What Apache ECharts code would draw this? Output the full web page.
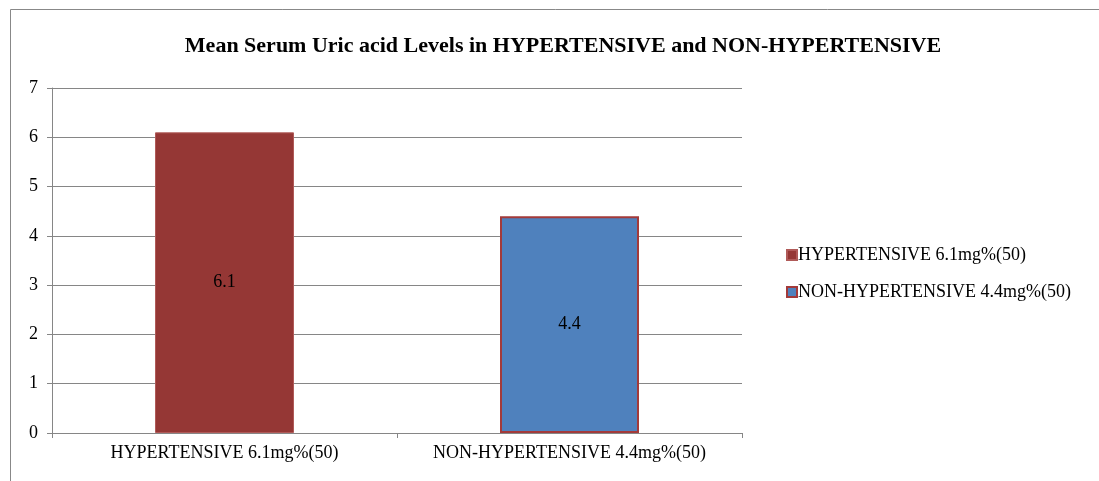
<!DOCTYPE html>
<html><head><meta charset="utf-8">
<script src="https://cdn.jsdelivr.net/npm/echarts@6/dist/echarts.min.js"></script>
<style>html,body{margin:0;padding:0;background:#fff}#c{width:1099px;height:481px}</style>
</head><body><div id="c"></div>
<script>
var categories = ['HYPERTENSIVE 6.1mg%(50)', 'NON-HYPERTENSIVE 4.4mg%(50)'];
var hyperValues = [6.1, '-'];
var nonHyperValues = ['-', 4.4];
var yTicks = [0, 1, 2, 3, 4, 5, 6, 7];
var FONT = '"Liberation Serif", "Times New Roman", serif';
var chart = echarts.init(document.getElementById('c'));
chart.setOption({
  animation: false,
  backgroundColor: '#fff',
  graphic: [{type: 'rect', shape: {x: 10.5, y: 9.5, width: 1200, height: 600}, style: {fill: 'none', stroke: '#888', lineWidth: 1}, silent: true}],
  title: {text: 'Mean Serum Uric acid Levels in HYPERTENSIVE and NON-HYPERTENSIVE', left: 558, textAlign: 'center', top: 30,
    textStyle: {fontFamily: FONT, fontSize: 22, fontWeight: 'bold', color: '#000'}},
  grid: {left: 52, right: 357, top: 88, bottom: 48, containLabel: false},
  legend: {orient: 'vertical', left: 781, top: 241, itemWidth: 10, itemHeight: 10, itemGap: 19, icon: 'rect',
    textStyle: {fontFamily: FONT, fontSize: 18, color: '#000', padding: [0, 0, 0, -4]}, data: categories},
  xAxis: {type: 'category', data: categories,
    axisLine: {lineStyle: {color: '#868686'}},
    axisTick: {show: true, length: 5, lineStyle: {color: '#868686'}},
    axisLabel: {fontFamily: FONT, fontSize: 18, color: '#000', margin: 11, interval: 0, hideOverlap: false}},
  yAxis: {type: 'value', min: 0, max: 7, interval: 1,
    axisLine: {show: true, lineStyle: {color: '#868686'}},
    axisTick: {show: true, length: 5, lineStyle: {color: '#868686'}},
    splitLine: {lineStyle: {color: '#868686'}},
    axisLabel: {fontFamily: FONT, fontSize: 18, color: '#000', margin: 14,
      formatter: function(v){ return yTicks.indexOf(v) >= 0 ? String(v) : ''; }}},
  series: [
    {name: categories[0], type: 'bar', data: hyperValues, barWidth: 139, barGap: '-100%',
      itemStyle: {color: '#953735', borderColor: '#b05a58', borderWidth: 1},
      label: {show: true, position: 'inside', fontFamily: FONT, fontSize: 18, color: '#000'}},
    {name: categories[1], type: 'bar', data: nonHyperValues, barWidth: 139, barGap: '-100%',
      itemStyle: {color: '#4f81bd', borderColor: '#a33a3a', borderWidth: 2},
      label: {show: true, position: 'inside', fontFamily: FONT, fontSize: 18, color: '#000'}}
  ]
});
</script></body></html>
